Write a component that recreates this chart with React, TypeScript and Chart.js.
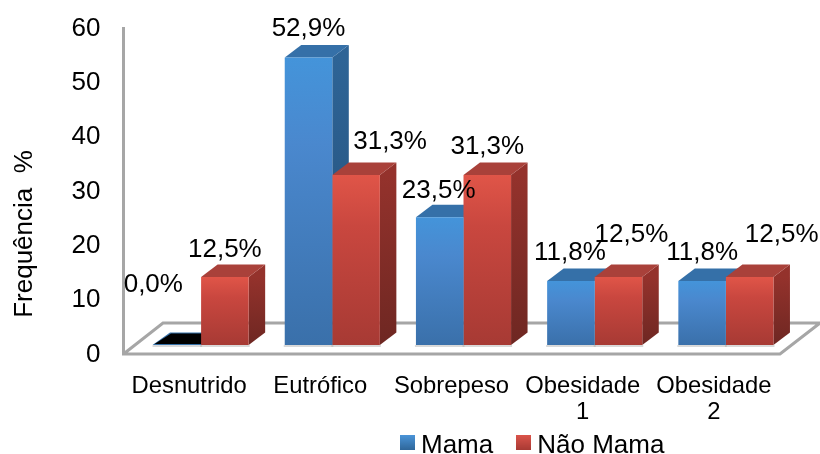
import React, { useEffect, useRef } from "react";
import { Chart, registerables } from "chart.js";

Chart.register(...registerables);

const categories = ["Desnutrido", "Eutrófico", "Sobrepeso", ["Obesidade", "1"], ["Obesidade", "2"]];
const mama = [0, 52.9, 23.5, 11.8, 11.8];
const naoMama = [12.5, 31.3, 31.3, 12.5, 12.5];
const seriesNames = ["Mama", "Não Mama"];
const yTitle = "Frequência  %";

const FONT = "'Liberation Sans', Arial, sans-serif";
const DX = 16.5;
const DY = 12.5;

const palette = [
  { hi: "#4494DA", mid: "#4A88CE", lo: "#3A70AA", sideHi: "#2E6496", sideLo: "#234E78", top: "#3570A8", swatchHi: "#4A94D8", swatchLo: "#2F6699" },
  { hi: "#E05548", mid: "#C9473F", lo: "#A73A34", sideHi: "#94322C", sideLo: "#6E2722", top: "#A9413A", swatchHi: "#DB544A", swatchLo: "#A83A34" },
];

// nudges of the value labels [dx, dy above bar top], by series then category
const labelNudge = [
  [[-24, 0], [0, 29], [-1, 26], [-1, 28], [0, 28]],
  [[0, 27], [34, 33], [0, 28], [13, 42], [32, 42]],
];

function swatch(p: any) {
  const c = document.createElement("canvas");
  c.width = 15;
  c.height = 22;
  const g = c.getContext("2d")!;
  const grad = g.createLinearGradient(0, 0, 0, 15);
  grad.addColorStop(0, p.swatchHi);
  grad.addColorStop(1, p.swatchLo);
  g.fillStyle = grad;
  g.fillRect(0, 0, 15, 15);
  return c;
}

function poly(ctx: CanvasRenderingContext2D, pts: number[][], fill: any) {
  ctx.beginPath();
  pts.forEach((p, i) => (i ? ctx.lineTo(p[0], p[1]) : ctx.moveTo(p[0], p[1])));
  ctx.closePath();
  ctx.fillStyle = fill;
  ctx.fill();
}

const scene3d = {
  id: "scene3d",
  afterLayout(chart: any) {
    const lg = chart.legend;
    if (lg) {
      lg.left = 377;
      lg.right = 820;
      lg.top = 403;
      lg.bottom = 454;
      lg.width = 443;
      lg.height = 51;
    }
  },
  beforeDatasetsDraw(chart: any) {
    const { ctx, chartArea: a } = chart;
    ctx.save();
    // floor and left wall
    ctx.beginPath();
    ctx.moveTo(a.left - 12, a.top + 8);
    ctx.lineTo(a.left - 12, a.bottom + 9);
    ctx.lineTo(a.right - 11.5, a.bottom + 9);
    ctx.lineTo(a.right + 28.5, a.bottom - 22);
    ctx.lineTo(a.left + 27.5, a.bottom - 22);
    ctx.lineTo(a.left - 12, a.bottom + 9);
    ctx.strokeStyle = "#A6A6A6";
    ctx.lineWidth = 3;
    ctx.stroke();
    // 3D faces
    chart.data.datasets.forEach((_: any, di: number) => {
      const meta = chart.getDatasetMeta(di);
      const p = palette[di];
      meta.data.forEach((el: any) => {
        const { x, y, base, width } = el.getProps(["x", "y", "base", "width"], true);
        const l = x - width / 2;
        const r = x + width / 2;
        ctx.fillStyle = "rgba(170,170,170,0.45)";
        ctx.fillRect(l - 1, base, width + 2, 2);
        if (base - y < 1) {
          poly(ctx, [[l - 1, y], [r, y], [r + DX, y - DY], [l + DX, y - DY]], p.top);
          poly(ctx, [[l + 1, y - 1], [r, y - 1], [r + DX, y - DY + 1], [l + DX + 1, y - DY + 1]], "#000");
          return;
        }
        const side = ctx.createLinearGradient(0, y, 0, base);
        side.addColorStop(0, p.sideHi);
        side.addColorStop(1, p.sideLo);
        poly(ctx, [[r, y], [r + DX, y - DY], [r + DX, base - DY], [r, base]], side);
        poly(ctx, [[l, y], [r, y], [r + DX, y - DY], [l + DX, y - DY]], p.top);
      });
    });
    ctx.restore();
  },
  afterDatasetsDraw(chart: any) {
    const { ctx } = chart;
    ctx.save();
    ctx.fillStyle = "#000";
    ctx.font = `26px ${FONT}`;
    ctx.textAlign = "center";
    ctx.textBaseline = "middle";
    chart.data.datasets.forEach((ds: any, di: number) => {
      chart.getDatasetMeta(di).data.forEach((el: any, i: number) => {
        const t = ds.data[i].toFixed(1).replace(".", ",") + "%";
        const [nx, ny] = labelNudge[di][i];
        const yy = ds.data[i] === 0 ? el.y - 60 : el.y - ny;
        ctx.fillText(t, el.x + nx, yy);
      });
    });
    ctx.translate(25, 234);
    ctx.rotate(-Math.PI / 2);
    ctx.font = `26px ${FONT}`;
    ctx.fillText(yTitle, 0, 0);
    ctx.restore();
  },
};

function faceFill(di: number) {
  return (c: any) => {
    const p = palette[di];
    if (c.dataIndex === undefined || !c.chart.chartArea) return p.mid;
    const sy = c.chart.scales.y;
    const g = c.chart.ctx.createLinearGradient(0, sy.getPixelForValue(c.raw), 0, sy.getPixelForValue(0));
    g.addColorStop(0, p.hi);
    g.addColorStop(0.3, p.mid);
    g.addColorStop(1, p.lo);
    return g;
  };
}

export default function App() {
  const ref = useRef<HTMLCanvasElement>(null);
  useEffect(() => {
    const chart = new Chart(ref.current!, {
      type: "bar",
      data: {
        labels: categories as any,
        datasets: [
          { label: seriesNames[0], data: mama, backgroundColor: faceFill(0), pointStyle: swatch(palette[0]) as any },
          { label: seriesNames[1], data: naoMama, backgroundColor: faceFill(1), pointStyle: swatch(palette[1]) as any },
        ],
      },
      options: {
        responsive: false,
        animation: false,
        layout: { padding: { top: 19, right: 28.5, left: 0, bottom: 0 } },
        datasets: { bar: { categoryPercentage: 0.725, barPercentage: 1 } },
        plugins: {
          title: { display: false },
          tooltip: { enabled: false },
          legend: {
            display: true,
            position: "bottom",
            align: "start",
            maxHeight: 1,
            labels: {
              usePointStyle: true,
              pointStyleWidth: 1,
              padding: 30,
              color: "#000",
              font: { family: FONT, size: 26 },
            },
          },
        },
        scales: {
          x: {
            grid: { display: false, drawTicks: false },
            border: { display: false },
            ticks: {
              padding: 29,
              labelOffset: -12,
              autoSkip: false,
              maxRotation: 0,
              minRotation: 0,
              color: "#000",
              font: { family: FONT, size: 23.8, lineHeight: 1.08 },
            },
            afterFit(s: any) {
              s.height = 108;
            },
          },
          y: {
            min: 0,
            max: 60,
            grid: { display: false, drawTicks: false },
            border: { display: false },
            ticks: {
              stepSize: 10,
              padding: 35,
              labelOffset: 9.5,
              color: "#000",
              font: { family: FONT, size: 26 },
            },
            afterFit(s: any) {
              s.width = 135.5;
              s.paddingTop = 0;
              s.paddingBottom = 0;
            },
          },
        },
      },
      plugins: [scene3d],
    } as any);
    return () => chart.destroy();
  }, []);
  return (
    <div style={{ position: "absolute", left: 0, top: 0, width: 820, height: 454, background: "#fff" }}>
      <canvas ref={ref} width={820} height={454} style={{ display: "block" }} />
    </div>
  );
}
